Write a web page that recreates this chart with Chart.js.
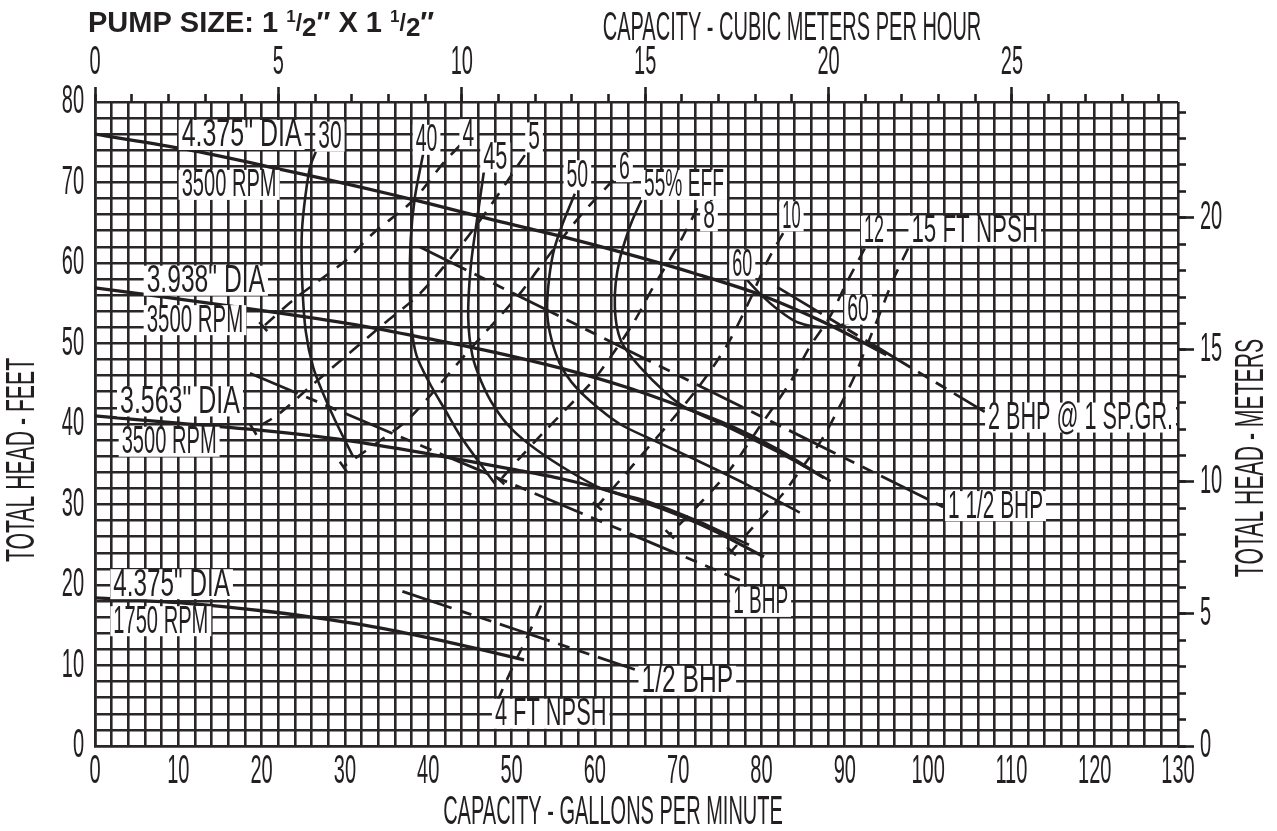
<!DOCTYPE html>
<html>
<head>
<meta charset="utf-8">
<script src="https://cdn.jsdelivr.net/npm/chart.js@4.4.1/dist/chart.umd.min.js"></script>
<style>
  html, body { margin: 0; padding: 0; background: #fff; }
</style>
</head>
<body>
<canvas id="pumpChart" width="1277" height="831"></canvas>
<script>
// tick labels
const gpmTicks = [0, 10, 20, 30, 40, 50, 60, 70, 80, 90, 100, 110, 120, 130];
const feetTicks = [0, 10, 20, 30, 40, 50, 60, 70, 80];
const m3hTicks = [0, 5, 10, 15, 20, 25];
const meterTicks = [0, 5, 10, 15, 20];

// head - capacity curves [gpm, ft]
const head4375 = [[0, 76], [11, 74.1], [22, 71.7], [32, 69.4], [40, 67.4], [48, 65.3], [56, 63.3], [64, 61.1], [72, 58.7], [80, 56], [88, 52.4], [95, 48.6]];
const head3938 = [[0, 56.9], [11, 55.4], [22, 53.8], [32, 52.2], [40, 50.6], [48, 48.9], [56, 46.9], [64, 44.5], [70, 42.3], [76, 39.9], [82, 36.8], [87.5, 33.3]];
const head3563 = [[0, 41], [10, 40.1], [20, 39.2], [30, 38], [40, 36.3], [50, 34.4], [56, 33.2], [62, 31.6], [68, 29.5], [74, 26.9], [80.3, 23.5]];
const head1750 = [[0, 18.4], [10, 17.8], [20, 16.8], [26, 16], [34, 14.7], [42, 13], [47, 11.8], [51.5, 10.7]];

// efficiency contours
const eff30 = [[26.5, 73.8], [25.8, 71.9], [25.1, 67], [24.8, 62.9], [24.9, 57], [25.3, 51.5], [26.2, 47], [27.5, 43.5], [28.8, 40.5], [31, 35.9]];
const eff40 = [[39.4, 73.6], [38.4, 68.2], [37.9, 63], [37.8, 57], [38, 52], [38.6, 48.5], [40.2, 45], [42, 41.8], [43.8, 38.6], [46, 35.4], [48, 32.6]];
const eff45 = [[46.8, 72.2], [45.9, 65.7], [45.1, 59.5], [44.8, 53.3], [45.3, 48.5], [46.4, 45.2], [47.9, 42.2], [50, 39.4], [53, 36.8], [57, 34.1], [61, 31.9], [66, 30.5], [72, 28.1], [78.5, 25]];
const eff50 = [[57.6, 68.6], [56, 64.5], [55, 61.2], [54.4, 57], [54.3, 53.5], [54.8, 50.5], [55.8, 47.5], [57.2, 45.2], [59.5, 42.8], [63, 40], [67, 38], [72, 35.6], [78, 32.6], [84.6, 29]];
const eff55 = [[65.6, 67.8], [64.5, 65.3], [63.8, 63.3], [63, 60.5], [62.5, 57.5], [62.4, 54.6], [62.7, 51.8], [63.4, 49.8], [65.4, 47.1], [68.6, 43.8], [70.8, 42.1], [76, 39.6], [82, 36.5], [88.3, 32.9]];
const eff60 = [[78, 58.2], [79.8, 56.2], [82, 54.2], [84.4, 52.6], [87.6, 52], [90.5, 52.5]];

// NPSH required
const npsh4 = [[43.8, 74.6], [41.8, 72.4], [38.2, 67.8], [33.4, 63.7], [30.2, 60.4], [27, 57.9], [23.8, 55.4], [20.2, 52.1]];
const npsh5 = [[51.6, 73.4], [47.4, 67], [43.8, 62], [39, 56.2], [34.5, 52.3], [30.2, 48.5], [26, 44.8], [22, 41.2], [19, 39.3]];
const npsh6 = [[62.2, 70.3], [58.2, 65.8], [53.4, 59.5], [51, 56.2], [44.6, 48.8], [37.8, 40.8], [33.5, 37.4], [29.8, 34.7]];
const npsh8 = [[72.3, 66.8], [69.9, 62], [67, 57], [64.6, 52.5], [62.2, 48.8], [59.8, 45.4], [56.5, 41.8], [53.8, 38.9], [51, 35.8], [48.6, 33]];
const npsh10 = [[82.6, 63.7], [80.6, 60], [78.6, 55.4], [76.2, 50.4], [74.2, 47.1], [72, 44], [69, 40.2], [66, 36.6], [63, 33], [60.3, 29.8]];
const npsh12 = [[92.4, 61.8], [90.2, 57.5], [88.2, 53.3], [85.8, 49.6], [83.4, 45.1], [80, 40], [76.2, 34.3], [72.5, 30], [69, 26.3]];
const npsh15 = [[97.6, 61.8], [95.8, 57.9], [94.2, 53.7], [92.6, 49.6], [91.2, 46], [89.6, 42.6], [87.2, 38], [84.4, 33.9], [82.8, 31.6], [79.6, 27.9], [76.4, 24.2]];
const npsh4Low = [[48.3, 5.6], [50, 9.5], [52, 13.8], [54, 18.6]];

// brake horsepower
const bhp2 = [[81.9, 57], [106.8, 41.5]];
const bhp15 = [[39, 62], [101.8, 29.7]];
const bhp1 = [[18.6, 46.3], [77.4, 20.6]];
const bhpHalf = [[36.9, 19.2], [64.8, 9.5]];

// curve labels: text, from gpm, to gpm, at ft
const labelSpots = [
  ['4.375" DIA', 10.4, 24.8, 75.9], ['30', 26.8, 29.6, 75.7], ['3500 RPM', 10.4, 21.8, 69.7],
  ['40', 38.5, 41.1, 75.3], ['4', 44.1, 45.5, 76], ['45', 46.6, 49.5, 73.1], ['5', 52, 53.4, 75.6],
  ['50', 56.6, 59.2, 70.9], ['6', 62.9, 64.2, 71.9], ['55% EFF', 65.9, 75.5, 69.7],
  ['8', 73, 74.4, 65.8], ['10', 82.5, 84.7, 65.8], ['60', 76.5, 78.9, 59.8],
  ['12', 92.3, 94.7, 64], ['15 FT NPSH', 98, 113.2, 64], ['60', 90.3, 92.9, 54.2],
  ['3.938" DIA', 6.2, 20.4, 57.8], ['3500 RPM', 6.2, 17.8, 52.9],
  ['3.563" DIA', 3, 17.4, 42.8], ['3500 RPM', 3.2, 14.6, 37.8],
  ['2 BHP @ 1 SP.GR.', 107.2, 129.4, 40.8], ['1 1/2 BHP', 102.4, 113.8, 29.8],
  ['1 BHP', 76.6, 83.2, 17.9], ['4.375" DIA', 2.2, 16.2, 20.1], ['1750 RPM', 2.2, 13.6, 15.5],
  ['1/2 BHP', 65.6, 76.6, 8.1], ['4 FT NPSH', 48, 61.4, 4]
];

const GPM_PER_M3H = 4.4029;
const FT_PER_M = 3.2808;
const ink = '#231f20';
const gridInk = '#2a2526';
const FONT = '"Liberation Sans", Arial, sans-serif';

function curve(pts, width, dash, extra) {
  return Object.assign({
    data: pts.map(([x, y]) => ({ x, y })),
    showLine: true,
    pointRadius: 0,
    borderColor: ink,
    borderWidth: width,
    borderDash: dash || [],
    tension: 0.3,
    fill: false
  }, extra || {});
}

const npshDash = [13, 10];
const bhpDash = [52, 9, 12, 9, 12, 9];

const datasets = [
  curve(head4375, 3.3), curve(head3938, 3.3), curve(head3563, 3.3), curve(head1750, 3.3),
  curve(eff30, 2.6), curve(eff40, 2.6), curve(eff45, 2.6), curve(eff50, 2.6), curve(eff55, 2.6), curve(eff60, 2.6),
  curve(npsh4, 2.6, npshDash, { endTick: true }), curve(npsh5, 2.6, npshDash, { endTick: true }),
  curve(npsh6, 2.6, npshDash, { endTick: true }), curve(npsh8, 2.6, npshDash, { endTick: true }),
  curve(npsh10, 2.6, npshDash, { endTick: true }), curve(npsh12, 2.6, npshDash, { endTick: true }),
  curve(npsh15, 2.6, npshDash, { endTick: true }), curve(npsh4Low, 2.6, npshDash),
  curve(bhp2, 2.8, bhpDash), curve(bhp15, 2.8, bhpDash), curve(bhp1, 2.8, bhpDash), curve(bhpHalf, 2.8, bhpDash)
];

// narrow lettering like the drafted original
const condense = {
  id: 'condense',
  beforeDraw(chart) {
    const ctx = chart.ctx;
    if (ctx._plainFill) return;
    const plain = ctx.fillText;
    ctx._plainFill = plain;
    ctx.fillText = function (t, x, y, w) {
      const k = this._k || 0.5;
      this.save();
      this.translate(x, y);
      this.scale(k, 1);
      if (w === undefined) plain.call(this, t, 0, 0);
      else plain.call(this, t, 0, 0, w / k);
      this.restore();
    };
  }
};

const endTicks = {
  id: 'endTicks',
  afterDatasetsDraw(chart) {
    const ctx = chart.ctx;
    ctx.save();
    ctx.strokeStyle = ink;
    ctx.lineWidth = 2.6;
    chart.data.datasets.forEach((ds, i) => {
      if (!ds.endTick) return;
      const pts = chart.getDatasetMeta(i).data;
      const a = pts[pts.length - 2], b = pts[pts.length - 1];
      const dx = b.x - a.x, dy = b.y - a.y, len = Math.hypot(dx, dy);
      const nx = -dy / len * 6, ny = dx / len * 6;
      ctx.beginPath();
      ctx.moveTo(b.x - nx, b.y - ny);
      ctx.lineTo(b.x + nx, b.y + ny);
      ctx.stroke();
    });
    ctx.restore();
  }
};

const notes = {
  id: 'notes',
  afterDatasetsDraw(chart) {
    const ctx = chart.ctx;
    const { x, y } = chart.scales;
    const plain = ctx._plainFill || ctx.fillText;
    ctx.save();
    ctx.font = '38px ' + FONT;
    ctx.textBaseline = 'middle';
    ctx.textAlign = 'left';
    labelSpots.forEach(([text, g1, g2, h]) => {
      const x1 = x.getPixelForValue(g1), x2 = x.getPixelForValue(g2), yc = y.getPixelForValue(h);
      ctx.fillStyle = '#fff';
      ctx.fillRect(x1 - 3, yc - 15, x2 - x1 + 6, 30);
      const w = ctx.measureText(text).width;
      ctx.save();
      ctx.translate(x1, yc);
      ctx.scale((x2 - x1) / w, 1);
      ctx.fillStyle = ink;
      plain.call(ctx, text, 0, 1);
      ctx.restore();
    });
    ctx.restore();
  }
};

const titles = {
  id: 'titles',
  afterDraw(chart) {
    const ctx = chart.ctx;
    const plain = ctx._plainFill || ctx.fillText;
    ctx.save();
    ctx.fillStyle = ink;
    ctx.font = '40px ' + FONT;
    ctx.textAlign = 'center';
    ctx.textBaseline = 'middle';
    ctx._k = 0.5;
    ctx.fillText('CAPACITY - CUBIC METERS PER HOUR', 792, 29);
    ctx.fillText('CAPACITY - GALLONS PER MINUTE', 613, 813);
    ctx._k = 0.53;
    ctx.save(); ctx.translate(23, 460); ctx.rotate(-Math.PI / 2); ctx.fillText('TOTAL HEAD - FEET', 0, 0); ctx.restore();
    ctx.save(); ctx.translate(1252, 458); ctx.rotate(-Math.PI / 2); ctx.fillText('TOTAL HEAD - METERS', 0, 0); ctx.restore();
    ctx._k = 0;

    // PUMP SIZE: 1 1/2" X 1 1/2"
    ctx.textAlign = 'left';
    ctx.textBaseline = 'alphabetic';
    let px = 88;
    const base = 32;
    const seg = (t, size, dy) => {
      ctx.font = 'bold ' + size + 'px ' + FONT;
      plain.call(ctx, t, px, base + dy);
      px += ctx.measureText(t).width;
    };
    seg('PUMP SIZE: 1 ', 29, 0); seg('1', 17, -10); seg('/', 23, -1); seg('2', 26, 4);
    seg('\u2033 X 1 ', 29, 0); seg('1', 17, -10); seg('/', 23, -1); seg('2', 26, 4); seg('\u2033', 29, 0);
    ctx.restore();
  }
};

const tickFont = { family: FONT, size: 40, lineHeight: 1.2 };
const label = (list) => (v) => (list.includes(v) ? String(v) : '');

new Chart(document.getElementById('pumpChart'), {
  type: 'scatter',
  data: { datasets },
  options: {
    responsive: false,
    animation: false,
    layout: { padding: 0 },
    plugins: { legend: { display: false }, tooltip: { enabled: false }, title: { display: false } },
    scales: {
      x: {
        type: 'linear', position: 'bottom', min: 0, max: 130,
        ticks: { stepSize: 2, autoSkip: false, maxRotation: 0, padding: 2, color: ink, font: tickFont, callback: label(gpmTicks) },
        grid: { color: gridInk, lineWidth: 2.6, drawTicks: false },
        border: { color: gridInk, width: 2.6 },
        afterFit: (s) => { s.height = 85; }
      },
      y: {
        type: 'linear', position: 'left', min: 0, max: 80,
        ticks: { stepSize: 2, autoSkip: false, padding: 11, color: ink, font: tickFont, callback: label(feetTicks) },
        grid: { color: gridInk, lineWidth: 2.6, drawTicks: false },
        border: { color: gridInk, width: 2.6 },
        afterFit: (s) => { s.width = 95; }
      },
      xMinor: {
        type: 'linear', position: 'top', weight: 0, min: 0, max: 130 / GPM_PER_M3H,
        ticks: { stepSize: 1, autoSkip: false, includeBounds: false, maxRotation: 0, callback: () => '' },
        grid: { drawOnChartArea: false, color: ink, tickColor: ink, tickWidth: 2.6, tickLength: 8 },
        border: { display: false },
        afterFit: (s) => { s.height = 0; }
      },
      xM3h: {
        type: 'linear', position: 'top', weight: 1, min: 0, max: 130 / GPM_PER_M3H,
        ticks: { stepSize: 5, autoSkip: false, includeBounds: false, maxRotation: 0, padding: 0, color: ink, font: tickFont, callback: label(m3hTicks) },
        grid: { drawOnChartArea: false, color: ink, tickColor: ink, tickWidth: 2.6, tickLength: 15 },
        border: { display: false },
        afterFit: (s) => { s.height = 102; }
      },
      yMinor: {
        type: 'linear', position: 'right', weight: 0, min: 0, max: 80 / FT_PER_M,
        ticks: { stepSize: 1, autoSkip: false, includeBounds: false, callback: () => '' },
        grid: { drawOnChartArea: false, color: ink, tickColor: ink, tickWidth: 2.6, tickLength: 8 },
        border: { display: false },
        afterFit: (s) => { s.width = 0; }
      },
      yMeters: {
        type: 'linear', position: 'right', weight: 1, min: 0, max: 80 / FT_PER_M,
        ticks: { stepSize: 5, autoSkip: false, includeBounds: false, padding: 6, color: ink, font: tickFont, callback: label(meterTicks) },
        grid: { drawOnChartArea: false, color: ink, tickColor: ink, tickWidth: 2.6, tickLength: 16 },
        border: { display: false },
        afterFit: (s) => { s.width = 99; }
      }
    }
  },
  plugins: [condense, endTicks, notes, titles]
});
</script>
</body>
</html>
